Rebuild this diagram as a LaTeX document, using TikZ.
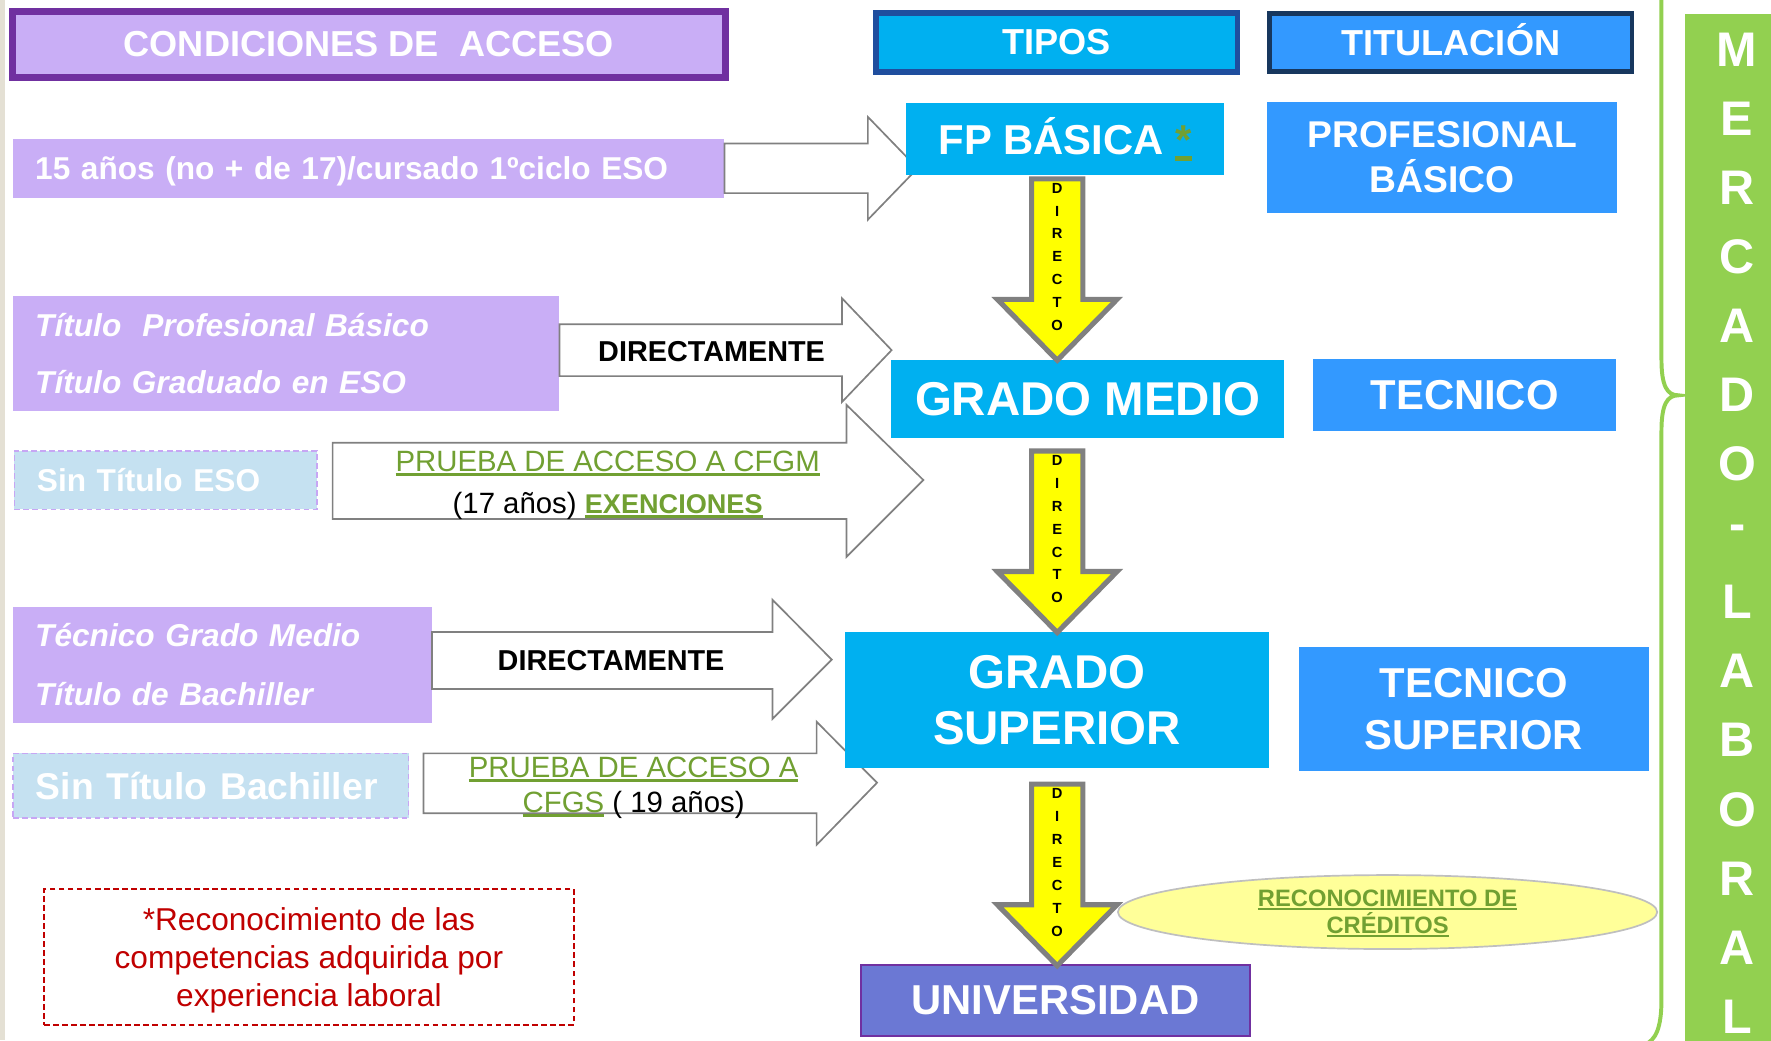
\documentclass[tikz,border=0pt]{standalone}
\usepackage{fontspec}
\setmainfont{Liberation Sans}
\usetikzlibrary{shapes.geometric}

\definecolor{lila}{HTML}{C9AEF6}
\definecolor{morado}{HTML}{7030A0}
\definecolor{cian}{HTML}{00B0F0}
\definecolor{azul}{HTML}{3399FF}
\definecolor{azulosc}{HTML}{1F4E9E}
\definecolor{marino}{HTML}{17375E}
\definecolor{celeste}{HTML}{C5E1F1}
\definecolor{lilaborde}{HTML}{C7A6F4}
\definecolor{verde}{HTML}{92D050}
\definecolor{enlace}{HTML}{71A032}
\definecolor{amarillo}{HTML}{FFFF00}
\definecolor{crema}{HTML}{FFFF99}
\definecolor{univ}{HTML}{6B78D4}
\definecolor{rojo}{HTML}{C00000}
\definecolor{beige}{HTML}{E4E0D4}

\newcommand{\ulink}[1]{{\color{enlace}\setbox0=\hbox{#1}\rlap{\rule[-0.15em]{\wd0}{0.1em}}\box0}}

\tikzset{
  box/.style={rectangle, inner sep=0pt, text=white, align=center},
  cond/.style={box, fill=lila, align=left, inner xsep=20pt, anchor=west},
  sin/.style={cond, fill=celeste, draw=lilaborde, line width=1.5pt, dash pattern=on 5pt off 3pt},
  tipo/.style={box, fill=cian},
  titulo/.style={box, fill=azul},
  flecha/.style={draw=gray, fill=white, line width=1.5pt},
  bajada/.style={draw=gray, fill=amarillo, line width=4.5pt},
  letra/.style={inner sep=0pt, font=\fontsize{13}{13}\selectfont\bfseries},
  mletra/.style={inner sep=0pt, text=white, font=\fontsize{43}{43}\selectfont\bfseries},
  rotulo/.style={inner sep=0pt, align=center}
}

\begin{document}
\begin{tikzpicture}[x=1pt, y=-1pt]
  \useasboundingbox (0,0) rectangle (1568,921);
  \clip (0,0) rectangle (1568,921);
  \fill[beige] (0,0) rectangle (4,921);

  % condiciones de acceso
  \node[box, fill=lila, draw=morado, line width=6pt, minimum width=631pt, minimum height=58.5pt, font=\fontsize{32}{36}\selectfont\bfseries] (cond) at (326.5,39.3) {CONDICIONES DE~ ACCESO};
  \node[cond, text width=590pt, text depth=0pt, minimum height=52pt, font=\fontsize{28}{32}\selectfont\bfseries] (acc1) at (11,149) {15 años (no + de 17)/cursado 1ºciclo ESO};
  \node[cond, text width=444pt, minimum height=102pt, font=\fontsize{28}{51}\selectfont\bfseries\itshape] (acc2) at (11,313) {Título~ Profesional Básico\\Título Graduado en ESO};
  \node[sin, text width=228pt, minimum height=52pt, font=\fontsize{28}{32}\selectfont\bfseries] (acc3) at (12,425) {Sin Título ESO};
  \node[cond, text width=331pt, minimum height=103pt, font=\fontsize{28}{52}\selectfont\bfseries\itshape] (acc4) at (11,588.5) {Técnico Grado Medio\\Título de Bachiller};
  \node[sin, text width=310pt, minimum height=57pt, font=\fontsize{33}{36}\selectfont\bfseries] (acc5) at (11,695.5) {Sin Título Bachiller};

  \draw[flecha, shift={(acc1.east)}] (0,-22) -- (127,-22) -- (127,-45.5) -- (171,0) -- (127,45.5) -- (127,22) -- (0,22) -- cycle;
  \draw[flecha, shift={(acc2.east)}] (0,-26) -- (250,-26) -- (250,-49) -- (294,-3) -- (250,43) -- (250,20) -- (0,20) -- cycle;
  \draw[flecha, shift={(acc3.east)}] (13,-33) -- (468,-33) -- (468,-66.5) -- (536,0) -- (468,68) -- (468,34.5) -- (13,34.5) -- cycle;
  \draw[flecha, shift={(acc4.east)}] (0,-29) -- (301.5,-29) -- (301.5,-57.5) -- (354,-4.5) -- (301.5,48) -- (301.5,21.5) -- (0,21.5) -- cycle;
  \draw[flecha, shift={(acc5.east)}] (12.5,-28.5) -- (360.5,-28.5) -- (360.5,-56.5) -- (414,-2.5) -- (360.5,52.5) -- (360.5,24.5) -- (12.5,24.5) -- cycle;

  \node[rotulo, font=\fontsize{25.5}{28}\selectfont\bfseries] (directa2) at (630,311) {DIRECTAMENTE};
  \node[rotulo, font=\fontsize{26}{37}\selectfont] (prueba3) at (538,429.6) {\ulink{PRUEBA DE ACCESO A CFGM}\\(17 años) \ulink{\fontsize{24}{37}\selectfont\bfseries EXENCIONES}};
  \node[rotulo, font=\fontsize{25.5}{28}\selectfont\bfseries] (directa4) at (541,585) {DIRECTAMENTE};
  \node[rotulo, font=\fontsize{26}{31}\selectfont] (prueba5) at (561,697.3) {\ulink{PRUEBA DE ACCESO A}\\\ulink{CFGS} ( 19 años)};

  % tipos y titulacion
  \node[tipo, draw=azulosc, line width=5pt, minimum width=320pt, minimum height=52pt, font=\fontsize{32}{36}\selectfont\bfseries] (tipos) at (935.5,37.5) {TIPOS};
  \node[titulo, draw=marino, line width=4pt, minimum width=321pt, minimum height=51.5pt, font=\fontsize{32}{36}\selectfont\bfseries] (titul) at (1284.5,37.75) {TITULACI\smash{Ó}N};
  \node[tipo, minimum width=282pt, minimum height=64pt, font=\fontsize{37}{40}\selectfont\bfseries] (fpb) at (943,123) {FP BÁSICA \ulink{*}};
  \node[titulo, minimum width=310pt, minimum height=99pt, font=\fontsize{33}{40}\selectfont\bfseries] (tprof) at (1277,139.5) {PROFESIONAL\\BÁSICO};
  \node[tipo, minimum width=348pt, minimum height=68.6pt, font=\fontsize{42}{46}\selectfont\bfseries] (gm) at (963,353.3) {GRADO MEDIO};
  \node[titulo, minimum width=268.5pt, minimum height=64pt, font=\fontsize{37}{40}\selectfont\bfseries] (ttec) at (1296.75,350) {TECNICO};
  \node[tipo, minimum width=375.6pt, minimum height=120.4pt, font=\fontsize{42}{50}\selectfont\bfseries] (gs) at (935.8,619.8) {GRADO\\SUPERIOR};
  \node[titulo, minimum width=310pt, minimum height=110pt, font=\fontsize{37}{46}\selectfont\bfseries] (ttecs) at (1305,627.6) {TECNICO\\SUPERIOR};
  \node[box, fill=univ, draw=morado, line width=2pt, minimum width=345pt, minimum height=62.5pt, font=\fontsize{37}{40}\selectfont\bfseries] (univ) at (934.5,885.75) {UNIVERSIDAD};

  \node[ellipse, fill=crema, draw=black!25, line width=1.5pt, minimum width=477.5pt, minimum height=65.5pt, inner sep=0pt, text depth=0pt, align=center, font=\fontsize{21}{24}\selectfont\bfseries] (cred) at (1228.5,807.5) {\ulink{RECONOCIMIENTO DE}\\\ulink{CRÉDITOS}};

  \foreach \t [count=\k] in {156,397,692}{
    \draw[bajada, shift={(936,\t)}] (-22.7,2.3) -- (22.7,2.3) -- (22.7,109) -- (53,109) -- (0,163) -- (-53,109) -- (-22.7,109) -- cycle;
    \foreach \l [count=\i] in {D,I,R,E,C,T,O}
      \node[letra] (dir\k-\i) at (936,{\t+10.5+(\i-1)*20.3}) {\l};
  }

  \node[draw=rojo, dash pattern=on 5pt off 3pt, line width=1.5pt, text=rojo, align=center, minimum width=469pt, minimum height=120pt, inner sep=0pt, text depth=0pt, font=\fontsize{28}{34}\selectfont] (nota) at (273.5,847.25) {*Reconocimiento de las\\competencias adquirida por\\experiencia laboral};

  % mercado laboral
  \draw[verde, line width=3.5pt] (1471,-10) -- (1471,318) .. controls (1471,342) and (1476,350) .. (1486,350) .. controls (1476,350) and (1471,358) .. (1471,382) -- (1471,885) .. controls (1471,910) and (1466,921) .. (1456,925);
  \fill[verde] (1492,12.4) rectangle (1570,925);
  \foreach \l [count=\i] in {M,E,R,C,A,D,O,-,L,A,B,O,R,A,L}
    \node[mletra] (mer\i) at (1538,{44+(\i-1)*61.14}) {\l};
\end{tikzpicture}
\end{document}
